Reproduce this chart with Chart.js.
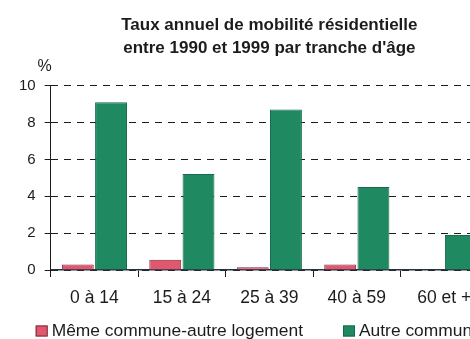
<!DOCTYPE html>
<html lang="fr">
<head>
<meta charset="utf-8">
<title>Mobilité résidentielle</title>
<script src="https://cdn.jsdelivr.net/npm/chart.js@4/dist/chart.umd.min.js"></script>
<style>
  html, body { margin: 0; padding: 0; background: #fff; overflow: hidden; }
  canvas { display: block; }
</style>
</head>
<body>
<canvas id="chart" width="500" height="350"></canvas>
<script>
const categories = ['0 à 14', '15 à 24', '25 à 39', '40 à 59', '60 et +'];
const memeCommune = [0.3, 0.55, 0.15, 0.3, 0];
const autreCommune = [9.1, 5.2, 8.7, 4.5, 1.9];
const yTicks = [0, 2, 4, 6, 8, 10];

const FONT = "'Liberation Sans', Arial, sans-serif";
const INK = '#1c1c1c';

// "%" au-dessus de l'axe des ordonnées
const unitLabel = {
  id: 'unitLabel',
  afterDraw(chart) {
    const { ctx, chartArea, scales } = chart;
    ctx.save();
    ctx.font = `16px ${FONT}`;
    ctx.fillStyle = INK;
    ctx.textAlign = 'center';
    ctx.textBaseline = 'middle';
    ctx.fillText('%', chartArea.left - 6, scales.y.top - 19);
    ctx.restore();
  },
};

// légende sur une ligne, sous les étiquettes de l'axe x
const bottomLegend = {
  id: 'bottomLegend',
  afterDraw(chart) {
    const { ctx, chartArea } = chart;
    const y = chartArea.bottom + 61;
    let x = chartArea.left - 15;
    ctx.save();
    ctx.font = `17.4px ${FONT}`;
    ctx.textBaseline = 'middle';
    chart.data.datasets.forEach((ds) => {
      ctx.fillStyle = ds.backgroundColor;
      ctx.strokeStyle = ds.borderColor;
      ctx.lineWidth = 1;
      ctx.fillRect(x, y - 5.5, 12, 11);
      ctx.strokeRect(x + 0.5, y - 5, 11, 10);
      ctx.fillStyle = INK;
      ctx.fillText(ds.label, x + 16, y);
      x += 16 + ctx.measureText(ds.label).width + 40;
    });
    ctx.restore();
  },
};

const chartConfig = {
  type: 'bar',
  data: {
    labels: categories,
    datasets: [
      {
        label: 'Même commune-autre logement',
        data: memeCommune,
        backgroundColor: '#e0576f',
        borderColor: '#7e2a33',
        borderWidth: 1,
        categoryPercentage: 0.76,
        barPercentage: 0.96,
      },
      {
        label: 'Autre commune',
        data: autreCommune,
        backgroundColor: '#1f8a62',
        borderColor: '#176a4b',
        borderWidth: 1,
        categoryPercentage: 0.76,
        barPercentage: 0.96,
      },
    ],
  },
  options: {
    responsive: false,
    animation: false,
    layout: { padding: { left: 10, right: 12, top: 0, bottom: 40 } },
    plugins: {
      legend: { display: false },
      tooltip: { enabled: false },
      title: {
        display: true,
        fullSize: false,
        text: ['Taux annuel de mobilité résidentielle', "entre 1990 et 1999 par tranche d'âge"],
        color: INK,
        font: { family: FONT, size: 17, weight: 'bold', lineHeight: 1.4 },
        padding: { top: 13, bottom: 25 },
      },
    },
    scales: {
      x: {
        z: 1,
        grid: {
          display: true,
          offset: true,
          drawOnChartArea: false,
          tickLength: 7,
          color: INK,
        },
        border: { color: '#26323f', width: 1.5 },
        ticks: {
          color: INK,
          font: { family: FONT, size: 17.5 },
          padding: 11,
          maxRotation: 0,
        },
        afterFit: (scale) => {
          scale.height = 40;
        },
      },
      y: {
        min: yTicks[0],
        max: yTicks[yTicks.length - 1],
        grid: {
          color: INK,
          lineWidth: 1,
          tickLength: 6,
          tickBorderDash: [],
        },
        border: { color: INK, width: 1, dash: [7, 6] },
        ticks: {
          stepSize: yTicks[1] - yTicks[0],
          color: INK,
          font: { family: FONT, size: 15 },
          padding: 9,
        },
      },
    },
  },
  plugins: [unitLabel, bottomLegend],
};

new Chart(document.getElementById('chart'), chartConfig);
</script>
</body>
</html>
